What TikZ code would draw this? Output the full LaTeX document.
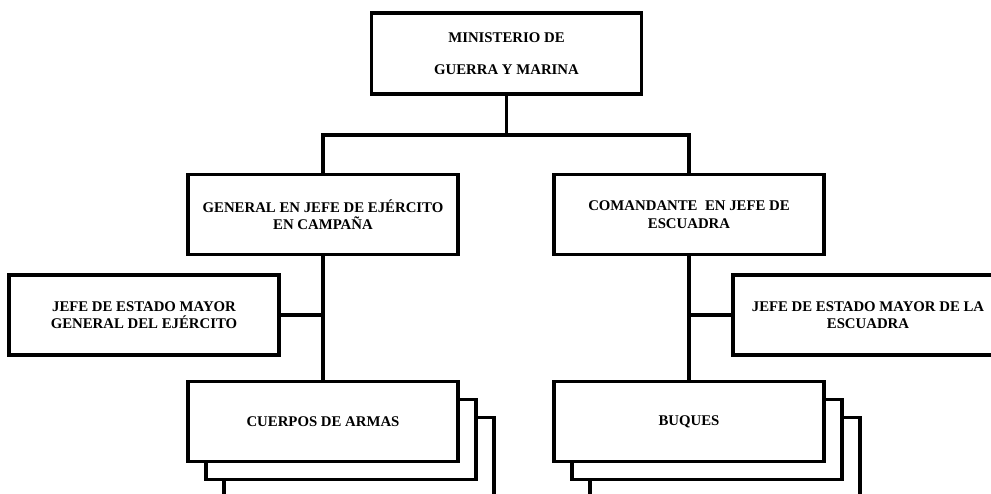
\documentclass[tikz,border=0pt]{standalone}
\usepackage{fontspec}
\setmainfont{Liberation Serif}
\begin{document}
\begin{tikzpicture}[x=1pt,y=-1pt,
  orgbox/.style={draw=black, line width=3.2pt, fill=white, minimum width=270pt, minimum height=80pt,
    inner sep=0pt, align=center, font=\fontsize{14.8}{17.5}\selectfont\bfseries},
  layerbox/.style={draw=black, line width=3.2pt, fill=white, minimum width=270pt, minimum height=80pt, inner sep=0pt},
  link/.style={draw=black, line width=3.2pt}]
\useasboundingbox (0,0) rectangle (991,494);
\clip (0,0) rectangle (991,494);
\fill[white] (0,0) rectangle (991,494);

% top
\node[orgbox, minimum height=81pt] (min) at (506.5,53.5) {MINISTERIO DE\\[15pt]GUERRA Y MARINA};

% second level
\node[orgbox] (gen) at (323,214.5) {GENERAL EN JEFE DE EJÉRCITO\\EN CAMPAÑA};
\node[orgbox] (com) at (689,214.5) {COMANDANTE~ EN JEFE DE\\ESCUADRA};

% staff
\node[orgbox] (jefeL) at (144,315) {JEFE DE ESTADO MAYOR\\GENERAL DEL EJÉRCITO};
\node[orgbox] (jefeR) at (868,315) {JEFE DE ESTADO MAYOR DE LA\\ESCUADRA};

% stacked boxes
\node[layerbox] (cue3) at (359,457.5) {};
\node[layerbox] (cue2) at (341,439.5) {};
\node[orgbox] (cue) at (323,421.5) {CUERPOS DE ARMAS};
\node[layerbox] (buq3) at (725,457.5) {};
\node[layerbox] (buq2) at (707,439.5) {};
\node[orgbox] (buq) at (689,421.5) {BUQUES};

% connectors
\coordinate (split) at (506.5,135);
\draw[link] (min.south) -- (split);
\draw[link] (gen.north) |- (split) -| (com.north);
\draw[link] (gen.south) -- (cue.north);
\draw[link] (com.south) -- (buq.north);
\draw[link] (jefeL.east) -- (jefeL.east -| gen.south);
\draw[link] (jefeR.west) -- (jefeR.west -| com.south);
\end{tikzpicture}
\end{document}
